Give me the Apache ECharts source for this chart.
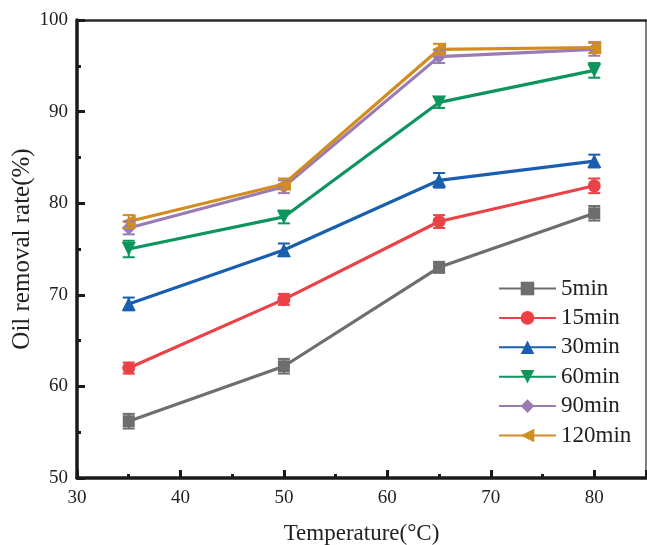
<!DOCTYPE html>
<html>
<head>
<meta charset="utf-8">
<script src="https://cdn.jsdelivr.net/npm/echarts@6/dist/echarts.min.js"></script>
<style>html,body{margin:0;padding:0;background:#fff}#c{width:647px;height:545px}</style>
</head>
<body>
<div id="c"></div>
<script>
var temperatures = [35, 50, 65, 80];
var seriesNames = ['5min', '15min', '30min', '60min', '90min', '120min'];
var v5 = [56.2, 62.2, 73.0, 78.9];
var v15 = [62.0, 69.5, 78.0, 81.9];
var v30 = [69.0, 74.9, 82.5, 84.6];
var v60 = [75.0, 78.5, 91.0, 94.5];
var v90 = [77.3, 81.8, 96.0, 96.8];
var v120 = [78.0, 82.1, 96.8, 97.0];
var e5 = [0.8, 0.8, 0.6, 0.8];
var e15 = [0.6, 0.6, 0.7, 0.8];
var e30 = [0.7, 0.7, 0.8, 0.7];
var e60 = [0.9, 0.7, 0.6, 0.8];
var e90 = [0.7, 0.7, 0.7, 0.7];
var e120 = [0.7, 0.6, 0.6, 0.6];
var xTicks = [30, 40, 50, 60, 70, 80];
var yTicks = [50, 60, 70, 80, 90, 100];

var allValues = [v5, v15, v30, v60, v90, v120];
var allErrors = [e5, e15, e30, e60, e90, e120];
var colors = ['#6e6e6e', '#ea4246', '#1a5faf', '#0e955f', '#9a7bb6', '#d28c1f'];
var symbols = ['rect', 'circle', 'triangle', 'triangle', 'diamond', 'triangle'];
var rotates = [0, 0, 0, 180, 0, 90];
var sizes = [12, 13, 14, 14, 14, 14];
var font = '"Liberation Serif", "Times New Roman", serif';

var series = [];
seriesNames.forEach(function (name, i) {
  var errData = temperatures.map(function (t, k) { return [t, allValues[i][k], allErrors[i][k]]; });
  series.push({
    type: 'custom',
    name: name + '_err',
    data: errData,
    z: 3,
    silent: true,
    renderItem: function (params, api) {
      var x = api.value(0), y = api.value(1), e = api.value(2);
      var lo = api.coord([x, y - e]);
      var hi = api.coord([x, y + e]);
      var w = 6;
      var st = { stroke: colors[i], lineWidth: 2 };
      return {
        type: 'group',
        children: [
          { type: 'line', shape: { x1: lo[0], y1: lo[1], x2: hi[0], y2: hi[1] }, style: st },
          { type: 'line', shape: { x1: lo[0] - w, y1: lo[1], x2: lo[0] + w, y2: lo[1] }, style: st },
          { type: 'line', shape: { x1: hi[0] - w, y1: hi[1], x2: hi[0] + w, y2: hi[1] }, style: st }
        ]
      };
    }
  });
  series.push({
    type: 'line',
    name: name,
    data: temperatures.map(function (t, k) { return [t, allValues[i][k]]; }),
    symbol: symbols[i],
    symbolRotate: rotates[i],
    symbolSize: sizes[i],
    showAllSymbol: true,
    z: 2 + i * 0.1,
    lineStyle: { color: colors[i], width: 3.2 },
    itemStyle: { color: colors[i] },
    emphasis: { disabled: true }
  });
});

var chart = echarts.init(document.getElementById('c'), null, { renderer: 'canvas' });
chart.setOption({
  animation: false,
  backgroundColor: '#fff',
  grid: { left: 77, right: 1, top: 20, bottom: 67, containLabel: false, outerBoundsMode: 'none' },
  legend: {
    data: seriesNames,
    orient: 'vertical',
    left: 498,
    top: 277,
    padding: 0,
    itemWidth: 57,
    itemHeight: 17,
    itemGap: 6.4,
    textStyle: { fontFamily: font, fontSize: 23, color: '#222' },
    inactiveColor: '#ccc'
  },
  xAxis: [{
    type: 'value',
    min: 30,
    max: 85,
    interval: 10,
    name: 'Temperature(°C)',
    nameLocation: 'middle',
    nameGap: 44,
    nameTextStyle: { fontFamily: font, fontSize: 23, color: '#222' },
    axisLine: { show: true, onZero: false, lineStyle: { color: '#1a1a1a', width: 3.5 } },
    axisTick: { show: true, inside: true, length: 8, lineStyle: { color: '#1a1a1a', width: 3 } },
    minorTick: { show: true, splitNumber: 2, length: 4, lineStyle: { color: '#1a1a1a', width: 3 } },
    axisLabel: {
      fontFamily: font, fontSize: 19, color: '#222', margin: 11,
      formatter: function (v) { return xTicks.indexOf(v) >= 0 ? String(v) : ''; }
    },
    splitLine: { show: false }
  }, {
    type: 'value',
    position: 'top',
    min: 30,
    max: 85,
    axisLine: { show: true, onZero: false, lineStyle: { color: '#2a2a2a', width: 2.5 } },
    axisTick: { show: false },
    axisLabel: { show: false },
    splitLine: { show: false }
  }],
  yAxis: [{
    type: 'value',
    min: 50,
    max: 100,
    interval: 10,
    name: 'Oil removal rate(%)',
    nameLocation: 'middle',
    nameGap: 42,
    nameMoveOverlap: false,
    nameTextStyle: { fontFamily: font, fontSize: 25, color: '#222' },
    axisLine: { show: true, onZero: false, lineStyle: { color: '#1a1a1a', width: 3.5 } },
    axisTick: { show: true, inside: true, length: 8, lineStyle: { color: '#1a1a1a', width: 3 } },
    minorTick: { show: true, splitNumber: 2, length: 4, lineStyle: { color: '#1a1a1a', width: 3 } },
    axisLabel: {
      fontFamily: font, fontSize: 19, color: '#222', margin: 9,
      formatter: function (v) { return yTicks.indexOf(v) >= 0 ? String(v) : ''; }
    },
    splitLine: { show: false }
  }, {
    type: 'value',
    position: 'right',
    min: 50,
    max: 100,
    axisLine: { show: true, onZero: false, lineStyle: { color: '#555', width: 1.5 } },
    axisTick: { show: false },
    axisLabel: { show: false },
    splitLine: { show: false }
  }],
  series: series
});
</script>
</body>
</html>
